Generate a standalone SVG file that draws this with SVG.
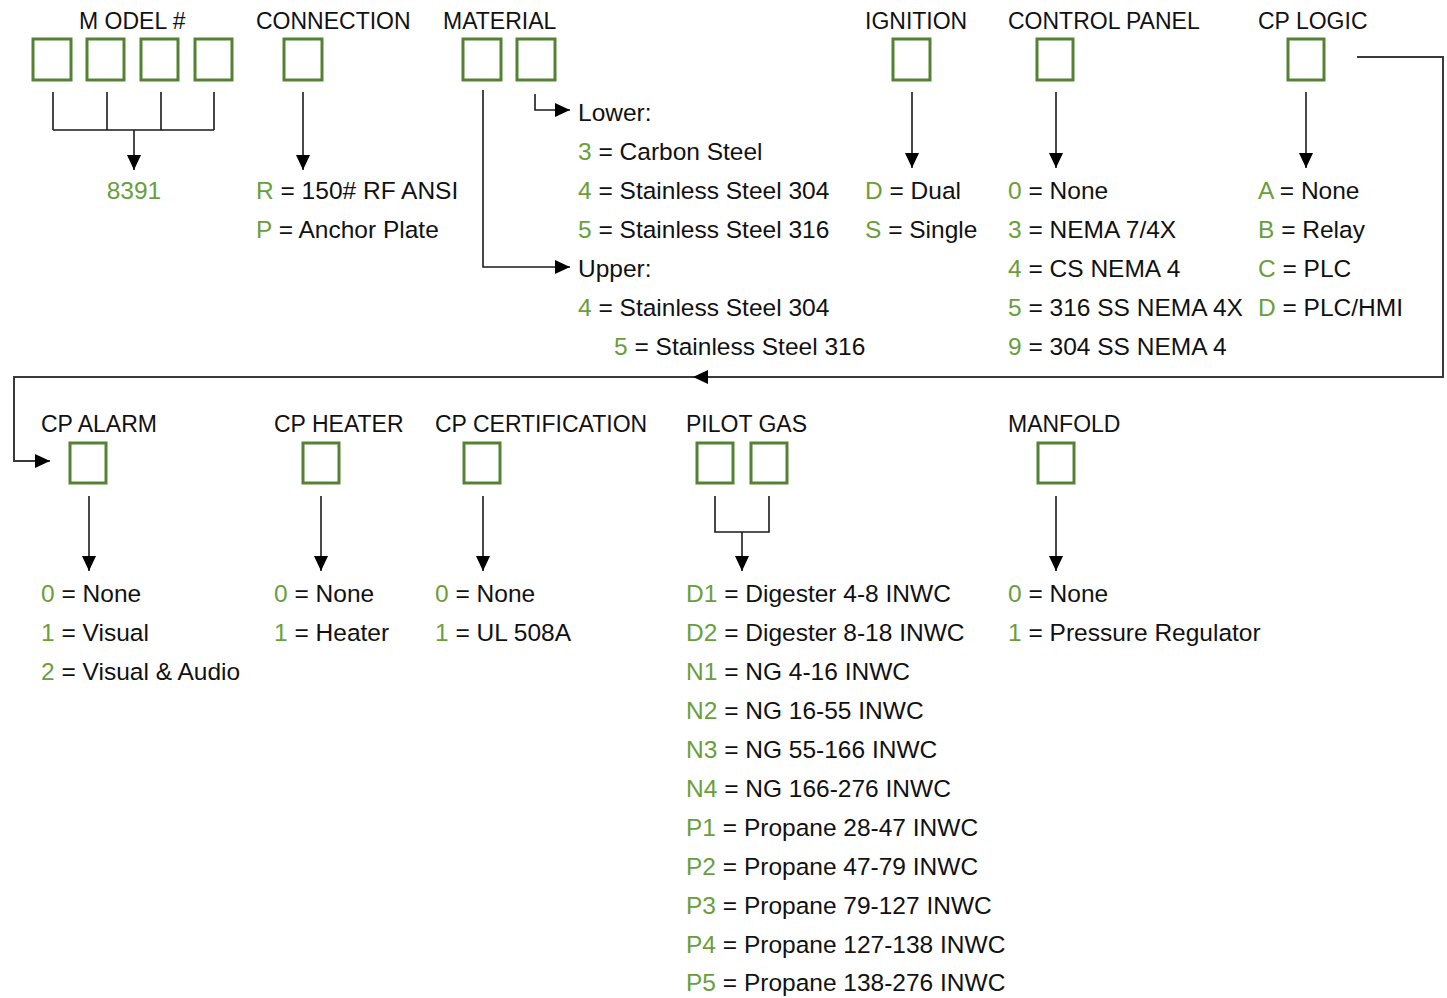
<svg xmlns="http://www.w3.org/2000/svg" width="1447" height="998" viewBox="0 0 1447 998">
<defs>
<style>
text{font-family:"Liberation Sans",Arial,sans-serif;font-size:24.5px;fill:#111}
text.h{font-size:23px}
.g{fill:#6a9e3c}
.box{fill:none;stroke:#548235;stroke-width:3}
.ln{fill:none;stroke:#1a1a1a;stroke-width:1.6}
.ret{fill:none;stroke:#3a3a3a;stroke-width:2}
</style>
<marker id="ah" markerUnits="userSpaceOnUse" markerWidth="15" markerHeight="14" refX="15" refY="7" orient="auto" viewBox="0 0 15 14">
<path d="M0,0 L15,7 L0,14 z" fill="#000"/>
</marker>
</defs>
<rect width="1447" height="998" fill="#fff"/>

<g id="model">
<text class="h" x="79" y="29">M ODEL #</text>
<rect class="box" x="33" y="39" width="38" height="41"/>
<rect class="box" x="87" y="39" width="37" height="41"/>
<rect class="box" x="141" y="39" width="37" height="41"/>
<rect class="box" x="195" y="39" width="37" height="41"/>
<text x="134" y="199" text-anchor="middle" class="g">8391</text>
</g>

<g id="connection">
<text class="h" x="256" y="29">CONNECTION</text>
<rect class="box" x="284" y="39" width="38" height="41"/>
<text x="256" y="199"><tspan class="g">R</tspan> = 150# RF ANSI</text>
<text x="256" y="238"><tspan class="g">P</tspan> = Anchor Plate</text>
</g>

<g id="material">
<text class="h" x="443" y="29">MATERIAL</text>
<rect class="box" x="463" y="39" width="38" height="41"/>
<rect class="box" x="517" y="39" width="38" height="41"/>
<text x="578" y="121">Lower:</text>
<text x="578" y="160"><tspan class="g">3</tspan> = Carbon Steel</text>
<text x="578" y="199"><tspan class="g">4</tspan> = Stainless Steel 304</text>
<text x="578" y="238"><tspan class="g">5</tspan> = Stainless Steel 316</text>
<text x="578" y="277">Upper:</text>
<text x="578" y="316"><tspan class="g">4</tspan> = Stainless Steel 304</text>
<text x="614" y="355"><tspan class="g">5</tspan> = Stainless Steel 316</text>
</g>

<g id="ignition">
<text class="h" x="865" y="29">IGNITION</text>
<rect class="box" x="893" y="39" width="37" height="41"/>
<text x="865" y="199"><tspan class="g">D</tspan> = Dual</text>
<text x="865" y="238"><tspan class="g">S</tspan> = Single</text>
</g>

<g id="control-panel">
<text class="h" x="1008" y="29">CONTROL PANEL</text>
<rect class="box" x="1037" y="39" width="36" height="41"/>
<text x="1008" y="199"><tspan class="g">0</tspan> = None</text>
<text x="1008" y="238"><tspan class="g">3</tspan> = NEMA 7/4X</text>
<text x="1008" y="277"><tspan class="g">4</tspan> = CS NEMA 4</text>
<text x="1008" y="316"><tspan class="g">5</tspan> = 316 SS NEMA 4X</text>
<text x="1008" y="355"><tspan class="g">9</tspan> = 304 SS NEMA 4</text>
</g>

<g id="cp-logic">
<text class="h" x="1258" y="29">CP LOGIC</text>
<rect class="box" x="1288" y="39" width="36" height="41"/>
<text x="1258" y="199"><tspan class="g">A</tspan> = None</text>
<text x="1258" y="238"><tspan class="g">B</tspan> = Relay</text>
<text x="1258" y="277"><tspan class="g">C</tspan> = PLC</text>
<text x="1258" y="316"><tspan class="g">D</tspan> = PLC/HMI</text>
</g>

<g id="cp-alarm">
<text class="h" x="41" y="432">CP ALARM</text>
<rect class="box" x="70" y="443" width="36" height="40"/>
<text x="41" y="602"><tspan class="g">0</tspan> = None</text>
<text x="41" y="641"><tspan class="g">1</tspan> = Visual</text>
<text x="41" y="680"><tspan class="g">2</tspan> = Visual &amp; Audio</text>
</g>

<g id="cp-heater">
<text class="h" x="274" y="432">CP HEATER</text>
<rect class="box" x="303" y="443" width="36" height="40"/>
<text x="274" y="602"><tspan class="g">0</tspan> = None</text>
<text x="274" y="641"><tspan class="g">1</tspan> = Heater</text>
</g>

<g id="cp-certification">
<text class="h" x="435" y="432">CP CERTIFICATION</text>
<rect class="box" x="464" y="443" width="36" height="40"/>
<text x="435" y="602"><tspan class="g">0</tspan> = None</text>
<text x="435" y="641"><tspan class="g">1</tspan> = UL 508A</text>
</g>

<g id="pilot-gas">
<text class="h" x="686" y="432">PILOT GAS</text>
<rect class="box" x="697" y="443" width="36" height="40"/>
<rect class="box" x="751" y="443" width="36" height="40"/>
<text x="686" y="602"><tspan class="g">D1</tspan> = Digester 4-8 INWC</text>
<text x="686" y="641"><tspan class="g">D2</tspan> = Digester 8-18 INWC</text>
<text x="686" y="680"><tspan class="g">N1</tspan> = NG 4-16 INWC</text>
<text x="686" y="719"><tspan class="g">N2</tspan> = NG 16-55 INWC</text>
<text x="686" y="758"><tspan class="g">N3</tspan> = NG 55-166 INWC</text>
<text x="686" y="797"><tspan class="g">N4</tspan> = NG 166-276 INWC</text>
<text x="686" y="836"><tspan class="g">P1</tspan> = Propane 28-47 INWC</text>
<text x="686" y="875"><tspan class="g">P2</tspan> = Propane 47-79 INWC</text>
<text x="686" y="914"><tspan class="g">P3</tspan> = Propane 79-127 INWC</text>
<text x="686" y="953"><tspan class="g">P4</tspan> = Propane 127-138 INWC</text>
<text x="686" y="991"><tspan class="g">P5</tspan> = Propane 138-276 INWC</text>
</g>

<g id="manifold">
<text class="h" x="1008" y="432">MANFOLD</text>
<rect class="box" x="1038" y="443" width="36" height="40"/>
<text x="1008" y="602"><tspan class="g">0</tspan> = None</text>
<text x="1008" y="641"><tspan class="g">1</tspan> = Pressure Regulator</text>
</g>

<g id="connectors">
<path class="ln" d="M53,92 V130 M107,92 V130 M161,92 V130 M214,92 V130 M53,130 H214"/>
<path class="ln" d="M134,130 V170" marker-end="url(#ah)"/>
<path class="ln" d="M303,92 V170" marker-end="url(#ah)"/>
<path class="ln" d="M535,94 V110 H570" marker-end="url(#ah)"/>
<path class="ln" d="M483,90 V267 H570" marker-end="url(#ah)"/>
<path class="ln" d="M912,92 V168" marker-end="url(#ah)"/>
<path class="ln" d="M1056,92 V168" marker-end="url(#ah)"/>
<path class="ln" d="M1306,92 V168" marker-end="url(#ah)"/>
<path class="ret" d="M1357,57 H1443 V377 H14 V461 H36"/>
<path class="ln" d="M36,461 H50" marker-end="url(#ah)"/>
<path d="M693,377 L708,370 L708,384 z" fill="#000"/>
<path class="ln" d="M89,496 V571" marker-end="url(#ah)"/>
<path class="ln" d="M321,496 V571" marker-end="url(#ah)"/>
<path class="ln" d="M483,496 V571" marker-end="url(#ah)"/>
<path class="ln" d="M715,496 V532 H769 V496"/>
<path class="ln" d="M742,532 V571" marker-end="url(#ah)"/>
<path class="ln" d="M1056,496 V571" marker-end="url(#ah)"/>
</g>
</svg>
